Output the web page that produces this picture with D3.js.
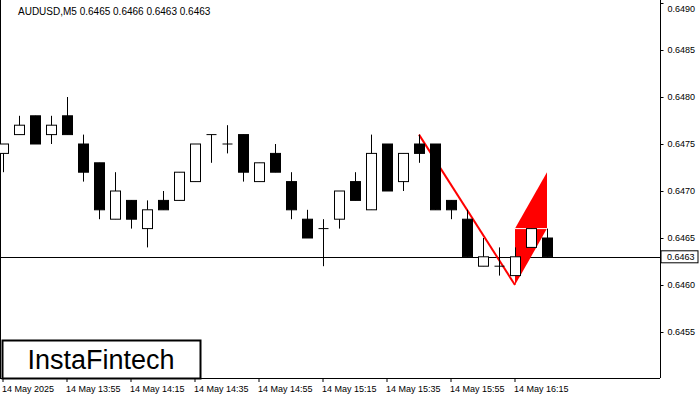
<!DOCTYPE html>
<html><head><meta charset="utf-8">
<script src="https://cdn.jsdelivr.net/npm/d3@7"></script>
<style>body{margin:0;background:#fff}svg{display:block}</style>
</head><body><svg id="c" width="700" height="400"></svg>
<script>
const times=["13:35","13:40","13:45","13:50","13:55","14:00","14:05","14:10","14:15","14:20","14:25","14:30","14:35","14:40","14:45","14:50","14:55","15:00","15:05","15:10","15:15","15:20","15:25","15:30","15:35","15:40","15:45","15:50","15:55","16:00","16:05","16:10","16:15","16:20","16:25"];
const opens =[.6474,.6476,.6478,.6476,.6478,.6475,.6473,.6467,.6469,.6466,.6469,.6469,.6471,.6476,.6475,.6476,.6471,.6474,.6471,.6467,.6466,.6467,.6471,.6468,.6475,.6471,.6475,.6475,.6469,.6467,.6462,.6462,.6461,.6464,.6465];
const highs =[.6475,.6478,.6478,.6478,.6480,.6476,.6473,.6472,.6469,.6469,.6470,.6472,.6475,.6476,.6477,.6476,.6473,.6475,.6472,.6468,.6467,.6470,.6472,.6476,.6475,.6474,.6476,.6475,.6469,.6468,.6465,.6464,.6464,.6466,.6466];
const lows  =[.6472,.6476,.6475,.6475,.6476,.6471,.6467,.6467,.6466,.6464,.6468,.6469,.6471,.6473,.6474,.6471,.6471,.6472,.6467,.6465,.6462,.6466,.6469,.6468,.6470,.6470,.6473,.6468,.6467,.6463,.6462,.6461,.6461,.6464,.6463];
const closes=[.6475,.6477,.6475,.6477,.6476,.6472,.6468,.6470,.6467,.6468,.6468,.6472,.6475,.6476,.6475,.6472,.6473,.6472,.6468,.6465,.6466,.6470,.6469,.6474,.6470,.6474,.6474,.6468,.6468,.6463,.6463,.6462,.6463,.6466,.6463];
const priceTicks=[.6455,.6460,.6465,.6470,.6475,.6480,.6485,.6490];
const timeLabels=["14 May 2025","14 May 13:55","14 May 14:15","14 May 14:35","14 May 14:55","14 May 15:15","14 May 15:35","14 May 15:55","14 May 16:15"];
const labelIdx=[0,4,8,12,16,20,24,28,32];
const poleTimes=["15:45","16:15"], polePrices=[.6476,.6460];
const flagTimes=["16:15","16:15","16:25","16:25"], flagPrices=[.6460,.6466,.6472,.6466];
const current=.6463;

const svg=d3.select("#c");
const W=660,H=378;
const x=d3.scalePoint().domain(times).range([3,547]);
const y=d3.scaleLinear().domain([.6455,.6490]).range([332,3]);
const F="Liberation Sans, Arial, sans-serif";

svg.append("line").attr("x1",W+.5).attr("x2",W+.5).attr("y1",0).attr("y2",H).attr("stroke","#000");
svg.append("line").attr("x1",0).attr("x2",W).attr("y1",H+.5).attr("y2",H+.5).attr("stroke","#000");
svg.append("line").attr("x1",.5).attr("x2",.5).attr("y1",0).attr("y2",H).attr("stroke","#000");

const ya=svg.append("g").attr("transform",`translate(${W+.5},0)`)
 .call(d3.axisRight(y).tickValues(priceTicks).tickFormat(d3.format(".4f")).tickSize(3));
ya.select(".domain").remove();
ya.selectAll("text").attr("font-family",F).attr("font-size",9).attr("x",7)
  .attr("dy",d=>d===.6490?"0.9em":"0.32em");

const xa=svg.append("g");
labelIdx.forEach((k,i)=>{
  const px=x(times[k]);
  xa.append("line").attr("x1",px).attr("x2",px).attr("y1",H).attr("y2",H+4).attr("stroke","#000");
  xa.append("text").attr("x",px-1).attr("y",392).attr("font-family",F).attr("font-size",9).text(timeLabels[i]);
});

svg.append("line").attr("x1",0).attr("x2",W).attr("y1",Math.round(y(current))+.5).attr("y2",Math.round(y(current))+.5).attr("stroke","#000");

svg.append("line").attr("x1",x(poleTimes[0])).attr("y1",y(polePrices[0])).attr("x2",x(poleTimes[1])).attr("y2",y(polePrices[1])).attr("stroke","#f00").attr("stroke-width",2);
svg.append("polygon").attr("points",flagTimes.map((t,i)=>[x(t),y(flagPrices[i])].join(",")).join(" ")).attr("fill","#f00");
svg.append("line").attr("x1",x(flagTimes[1])).attr("x2",x(flagTimes[2])).attr("y1",y(flagPrices[1])).attr("y2",y(flagPrices[1])).attr("stroke","#fff").attr("stroke-width",1);

const g=svg.append("g");
times.forEach((t,i)=>{
  const cx=Math.round(x(t))+.5;
  g.append("line").attr("x1",cx).attr("x2",cx).attr("y1",y(highs[i])).attr("y2",y(lows[i])).attr("stroke","#000");
  const top=y(Math.max(opens[i],closes[i])), bot=y(Math.min(opens[i],closes[i]));
  const up=closes[i]>=opens[i];
  if(bot-top<1){
    g.append("line").attr("x1",cx-5).attr("x2",cx+5).attr("y1",top).attr("y2",top).attr("stroke","#000");
  } else {
    g.append("rect").attr("x",cx-5).attr("y",top).attr("width",10).attr("height",bot-top)
     .attr("fill",up?"#fff":"#000").attr("stroke","#000");
  }
});

const cy=y(current);
svg.append("rect").attr("x",W+1).attr("y",cy-6).attr("width",37).attr("height",12).attr("fill","#fff").attr("stroke","#000");
svg.append("text").attr("x",W+7).attr("y",cy+3.5).attr("font-family",F).attr("font-size",9).text(d3.format(".4f")(current));

svg.append("text").attr("x",18).attr("y",15).attr("font-family",F).attr("font-size",10).text("AUDUSD,M5  0.6465 0.6466 0.6463 0.6463");

svg.append("rect").attr("x",2.5).attr("y",340.5).attr("width",198).attr("height",38).attr("fill","#fff").attr("stroke","#000").attr("stroke-width",2);
svg.append("text").attr("x",101).attr("y",369).attr("text-anchor","middle").attr("font-family",F).attr("font-size",27).text("InstaFintech");
</script></body></html>
